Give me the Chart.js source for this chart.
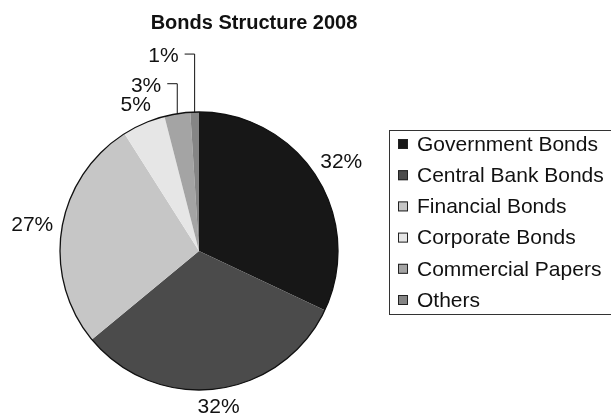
<!DOCTYPE html>
<html>
<head>
<meta charset="utf-8">
<script src="https://cdn.jsdelivr.net/npm/chart.js@4/dist/chart.umd.min.js"></script>
<style>
  html, body { margin: 0; padding: 0; background: #fff; }
  canvas { display: block; }
</style>
</head>
<body>
<canvas id="bondsChart" width="611" height="413"></canvas>
<script>
// bond structure, share of total (%)
const categories = ["Government Bonds", "Central Bank Bonds", "Financial Bonds", "Corporate Bonds", "Commercial Papers", "Others"];
const shares = [32, 32, 27, 5, 3, 1];
const shareLabels = ["32%", "32%", "27%", "5%", "3%", "1%"];
const fills = ["#171717", "#4b4b4b", "#c6c6c6", "#e6e6e6", "#a4a4a4", "#858585"];

const FONT = '"Liberation Sans", Arial, Helvetica, sans-serif';

// title, outline, slice labels and the boxed legend
const decorations = {
  id: "decorations",
  afterDatasetsDraw(chart) {
    const ctx = chart.ctx;
    const arcs = chart.getDatasetMeta(0).data;
    const cx = arcs[0].x, cy = arcs[0].y, r = arcs[0].outerRadius;

    ctx.save();

    // outer ring
    ctx.beginPath();
    ctx.arc(cx, cy, r, 0, Math.PI * 2);
    ctx.lineWidth = 1.3;
    ctx.strokeStyle = "#111";
    ctx.stroke();

    // title
    ctx.fillStyle = "#111";
    ctx.font = "bold 20px " + FONT;
    ctx.textAlign = "center";
    ctx.textBaseline = "middle";
    ctx.fillText("Bonds Structure 2008", 254, 23);

    // percentage labels
    ctx.font = "21px " + FONT;
    const lifts = [0, 0, 0, 0, 30, 58];
    arcs.forEach((arc, i) => {
      const a = (arc.startAngle + arc.endAngle) / 2;
      const cos = Math.cos(a), sin = Math.sin(a);
      const text = shareLabels[i];
      const hw = ctx.measureText(text).width / 2, hh = 7;
      if (lifts[i] === 0) {
        const d = r + 8 + Math.abs(hw * cos) + Math.abs(hh * sin);
        ctx.textAlign = "center";
        ctx.fillText(text, cx + d * cos, cy + d * sin + 1);
      } else {
        // small slices get a leader line up and to the left
        const px = cx + r * cos, py = cy + r * sin;
        const by = py - lifts[i];
        ctx.beginPath();
        ctx.moveTo(px, py);
        ctx.lineTo(px, by);
        ctx.lineTo(px - 10, by);
        ctx.lineWidth = 1;
        ctx.strokeStyle = "#111";
        ctx.stroke();
        ctx.textAlign = "right";
        ctx.fillText(text, px - 16, by + 2);
      }
    });

    // legend
    ctx.strokeStyle = "#333";
    ctx.lineWidth = 1;
    ctx.strokeRect(389.5, 130.5, 260, 184);
    ctx.textAlign = "left";
    categories.forEach((name, i) => {
      const y = 144 + i * 31.2;
      ctx.fillStyle = fills[i];
      ctx.fillRect(398, y - 5, 10, 10);
      ctx.strokeStyle = "#222";
      ctx.strokeRect(398.5, y - 4.5, 9, 9);
      ctx.fillStyle = "#111";
      ctx.fillText(name, 417, y + 1);
    });

    ctx.restore();
  }
};

new Chart(document.getElementById("bondsChart"), {
  type: "pie",
  data: {
    labels: categories,
    datasets: [{
      data: shares,
      backgroundColor: fills,
      borderWidth: 0,
      hoverBorderWidth: 0,
      hoverOffset: 0
    }]
  },
  options: {
    responsive: false,
    animation: false,
    events: [],
    layout: { padding: { left: 60, top: 112, right: 273, bottom: 23 } },
    plugins: {
      legend: { display: false },
      tooltip: { enabled: false },
      title: { display: false }
    }
  },
  plugins: [decorations]
});
</script>
</body>
</html>
